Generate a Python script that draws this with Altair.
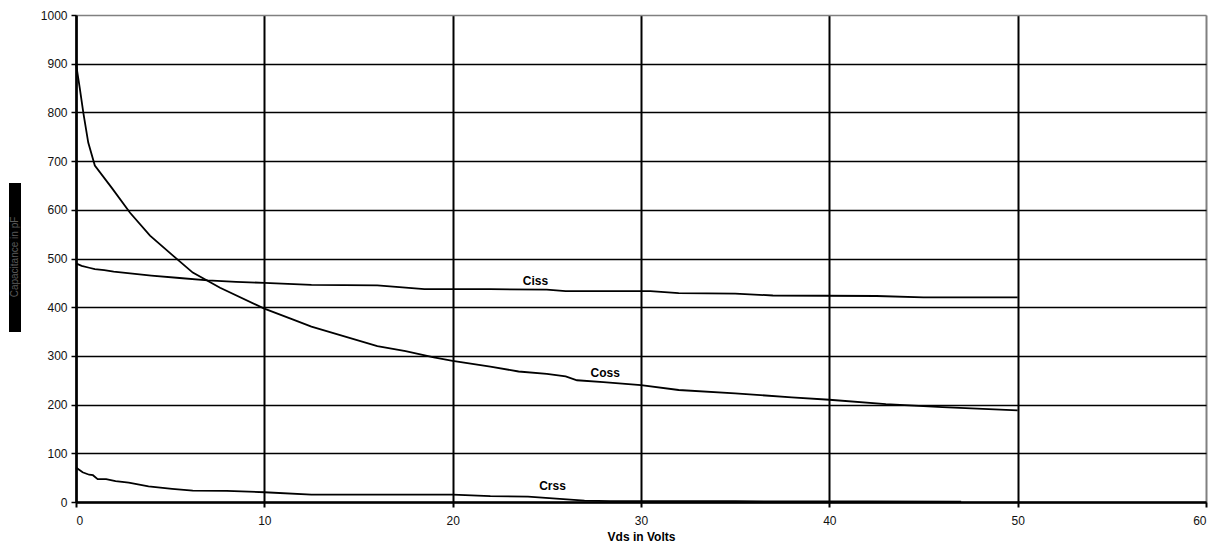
import altair as alt
import pandas as pd

# Ciss
ciss_v = [0, 0.3, 0.7, 1.0, 1.5, 2, 3, 4, 5.5, 7, 8.5, 10, 12.5, 16, 18.5, 22, 25, 26, 30.5, 32, 35, 37, 42.5, 45, 50]
ciss_c = [490, 485, 481, 478, 476, 473, 469, 465, 460, 455, 452, 450, 446, 445, 437, 437, 436, 433, 433, 429, 428, 424, 423, 420, 420]
# Coss
coss_v = [0, 0.2, 0.39, 0.65, 1.0, 1.9, 2.87, 3.93, 5.15, 6.2, 7.65, 10, 11.5, 12.5, 16, 17.5, 19, 20, 22, 23.5, 25, 26, 26.6, 28, 30, 32, 35, 38, 40, 43, 46, 50]
coss_c = [900, 850, 799, 738, 691, 645, 594, 547, 506, 471, 440, 397, 375, 360, 320, 310, 297, 290, 278, 268, 263, 258, 250, 246, 240, 230, 223, 215, 210, 201, 195, 188]
# Crss
crss_v = [0, 0.35, 0.7, 0.9, 1.15, 1.6, 2.1, 2.8, 3.85, 5.1, 6.2, 8, 10, 12.5, 14, 20, 22, 24, 25.5, 27, 28.4, 35, 42, 47]
crss_c = [71, 61, 56, 55, 47, 47, 43, 40, 32, 27, 23.5, 23, 20, 15, 15, 15, 12, 11, 7, 3, 2, 1.5, 1, 0.5]

lab_names = ["Ciss", "Coss", "Crss"]
lab_v = [24.4, 28.1, 25.3]
lab_c = [453, 264, 33]

rows = []
for n, vs, cs in [("Ciss", ciss_v, ciss_c), ("Coss", coss_v, coss_c), ("Crss", crss_v, crss_c)]:
    for v, c in zip(vs, cs):
        rows.append({"series": n, "v": v, "c": c})
df = pd.DataFrame(rows)
labels = pd.DataFrame({"name": lab_names, "v": lab_v, "c": lab_c})

FONT = "Liberation Sans"

xscale = alt.Scale(domain=[0, 60], nice=False, zero=True)
yscale = alt.Scale(domain=[0, 1000], nice=False)

lines = alt.Chart(df).mark_line(color="black", strokeWidth=1.8, interpolate="linear").encode(
    x=alt.X("v:Q", scale=xscale, title="Vds in Volts",
            axis=alt.Axis(values=[0, 10, 20, 30, 40, 50, 60], grid=True, format="d",
                          gridColor=alt.condition("datum.value == 60", alt.value("#808080"), alt.value("black")),
                          gridWidth=2, domainColor="black", domainWidth=2.5,
                          tickColor="black", tickSize=5, tickWidth=2,
                          labelFont=FONT, labelFontSize=12, labelColor="#111111", labelPadding=8,
                          titleFont=FONT, titleFontSize=12, titleFontWeight="bold", titleColor="black",
                          titlePadding=5)),
    y=alt.Y("c:Q", scale=yscale, title=None,
            axis=alt.Axis(values=list(range(0, 1001, 100)), grid=True, format="d",
                          gridColor=alt.condition("datum.value == 1000", alt.value("#808080"), alt.value("black")),
                          gridWidth=1.5, domainColor="black", domainWidth=2.5,
                          tickColor="black", tickSize=5, tickWidth=1.5,
                          labelFont=FONT, labelFontSize=12, labelColor="#111111", labelPadding=4)),
    detail="series:N",
)

texts = alt.Chart(labels).mark_text(font=FONT, fontSize=12, fontWeight="bold", color="black").encode(
    x=alt.X("v:Q", scale=xscale), y=alt.Y("c:Q", scale=yscale), text="name:N"
)

box = alt.Chart(pd.DataFrame({"t": ["Capacitance in pF"]})).mark_rect(color="black").encode(
    x=alt.value(-67), x2=alt.value(-55), y=alt.value(168), y2=alt.value(317)
)
boxtext = alt.Chart(pd.DataFrame({"t": ["Capacitance in pF"]})).mark_text(
    font=FONT, fontSize=10, color="#5a5a5a", angle=270).encode(
    x=alt.value(-61), y=alt.value(242), text="t:N"
)

chart = alt.layer(lines, texts, box, boxtext).properties(
    width=1130, height=487,
    autosize=alt.AutoSizeParams(type="none"),
    padding={"left": 68, "top": 7, "right": 10, "bottom": 48},
).configure_view(stroke=None).configure(background="white")

chart.save("out.html", embed_options={"renderer": "svg", "actions": False})
